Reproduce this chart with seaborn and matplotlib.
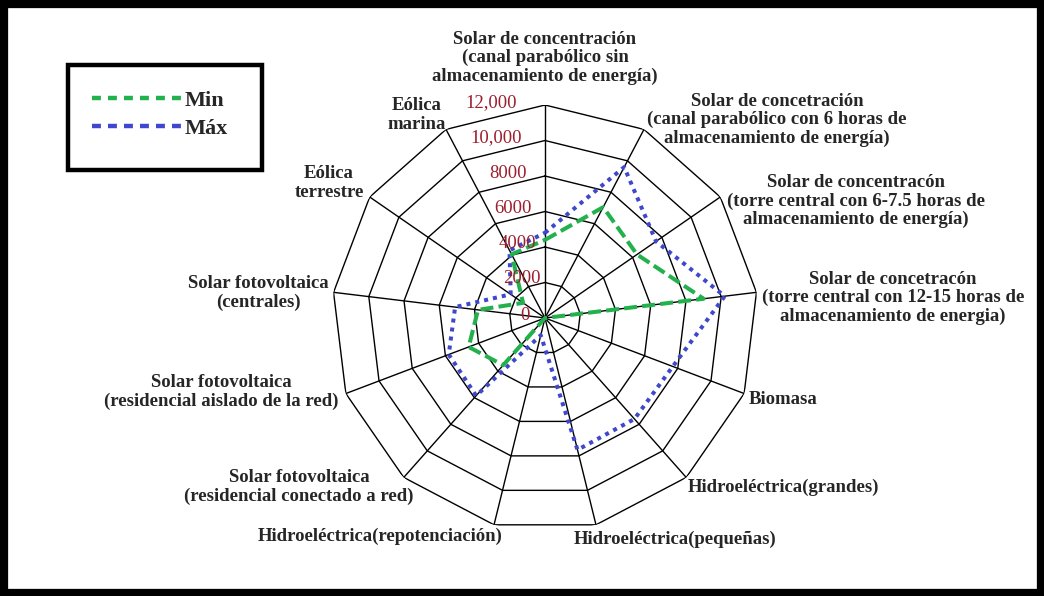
import numpy as np
import pandas as pd
import seaborn as sns
import matplotlib
matplotlib.use('Agg')
import matplotlib.pyplot as plt
from matplotlib.lines import Line2D
from matplotlib.patches import Rectangle

# datos (costo, 13 tecnologias, sentido horario desde arriba)
categorias = [
    'Solar de concentración\n(canal parabólico sin\nalmacenamiento de energía)',
    'Solar de concetración\n(canal parabólico con 6 horas de\nalmacenamiento de energía)',
    'Solar de concentracón\n(torre central con 6-7.5 horas de\nalmacenamiento de energía)',
    'Solar de concetracón\n(torre central con 12-15 horas de\nalmacenamiento de energia)',
    'Biomasa',
    'Hidroeléctrica(grandes)',
    'Hidroeléctrica(pequeñas)',
    'Hidroeléctrica(repotenciación)',
    'Solar fotovoltaica\n(residencial conectado a red)',
    'Solar fotovoltaica\n(residencial aislado de la red)',
    'Solar fotovoltaica\n(centrales)',
    'Eólica\nterrestre',
    'Eólica\nmarina',
]
minimo = [4400, 7050, 6300, 9000, 0, 0, 0, 0, 3550, 4600, 3800, 1500, 4050]
maximo = [4800, 9600, 7600, 10200, 7700, 7600, 7650, 1000, 5850, 5800, 5100, 2350, 4300]
niveles = [0, 2000, 4000, 6000, 8000, 10000, 12000]
etiquetas_niveles = ['0', '2000', '4000', '6000', '8000', '10,000', '12,000']

# posicion de cada etiqueta (pixeles de la imagen)
pos_etiquetas = [(545, 58), (777, 120), (856, 201), (893, 298), (783, 399),
                 (783, 487), (675, 539), (380, 536), (299, 487), (221, 392),
                 (258, 293), (329, 183), (417, 115)]

sns.set_theme(style='white')
plt.rcParams['font.family'] = ['Liberation Serif', 'DejaVu Serif']

W, H = 1044, 596
n = len(categorias)
ang = np.linspace(0, 2 * np.pi, n, endpoint=False)
ang_c = np.append(ang, 2 * np.pi)

df = pd.DataFrame({
    'ang': np.concatenate([ang_c, ang_c]),
    'valor': minimo + [minimo[0]] + maximo + [maximo[0]],
    'serie': ['Min'] * (n + 1) + ['Máx'] * (n + 1),
})

verde = '#22B14C'
azul = '#3F48CC'

fig = plt.figure(figsize=(W / 100, H / 100), dpi=100)
fig.patch.set_facecolor('white')
cx, cy, R = 545, 318, 213
ax = fig.add_axes([(cx - R) / W, 1 - (cy + R) / H, 2 * R / W, 2 * R / H], projection='polar')
ax.set_theta_offset(np.pi / 2)
ax.set_theta_direction(-1)
ax.grid(False)
ax.spines['polar'].set_visible(False)
ax.set_facecolor('white')

# rejilla poligonal
for v in niveles[1:]:
    ax.plot(ang_c, [v] * (n + 1), color='black', lw=1.0, zorder=1)
for a in ang:
    ax.plot([a, a], [0, niveles[-1]], color='black', lw=1.0, zorder=1)

sns.lineplot(data=df[df.serie == 'Máx'], x='ang', y='valor', ax=ax, color=azul,
             lw=2.9, linestyle=(0, (1.0, 1.25)), sort=False, estimator=None,
             legend=False, zorder=3)
sns.lineplot(data=df[df.serie == 'Min'], x='ang', y='valor', ax=ax, color=verde,
             lw=2.9, linestyle=(0, (3.2, 1.3)), sort=False, estimator=None,
             legend=False, zorder=4)

ax.set_ylim(0, niveles[-1])
ax.set_xticks([])
ax.set_yticks([])
ax.set_xlabel('')
ax.set_ylabel('')

for v, t in zip(niveles, etiquetas_niveles):
    if v == 0:
        ax.annotate(t, xy=(0, 0), xytext=(-15, 2), textcoords='offset pixels',
                    ha='right', va='center', fontsize=13.5, color='#9C1F2E', zorder=5)
    else:
        ax.annotate(t, xy=(-0.13, v), xytext=(0, 4), textcoords='offset pixels',
                    ha='right', va='center', fontsize=13.5, color='#9C1F2E', zorder=5)

for t, (px, py) in zip(categorias, pos_etiquetas):
    fig.text(px / W, 1 - py / H, t, ha='center', va='center', fontsize=13.5,
             fontweight='bold', linespacing=1.1, multialignment='center')

# leyenda
h_min = Line2D([], [], color=verde, lw=3.2, linestyle=(0, (2.0, 1.6)))
h_max = Line2D([], [], color=azul, lw=3.2, linestyle=(0, (2.0, 1.6)))
fig.legend([h_min, h_max], ['Min', 'Máx'], loc='upper left',
           bbox_to_anchor=(92 / W, 1 - 90 / H), frameon=False,
           prop={'size': 16, 'weight': 'bold'}, handlelength=4.05,
           handletextpad=0.1, labelspacing=0.36, borderpad=0, borderaxespad=0)
fig.add_artist(Rectangle((68 / W, 1 - 170 / H), 194 / W, 105 / H,
                         transform=fig.transFigure, fill=False, lw=3.2, edgecolor='black'))

# marco exterior
fig.add_artist(Rectangle((0, 0), 1, 1, transform=fig.transFigure, fill=False,
                         lw=11, edgecolor='black'))

fig.savefig('out.png', dpi=100)
